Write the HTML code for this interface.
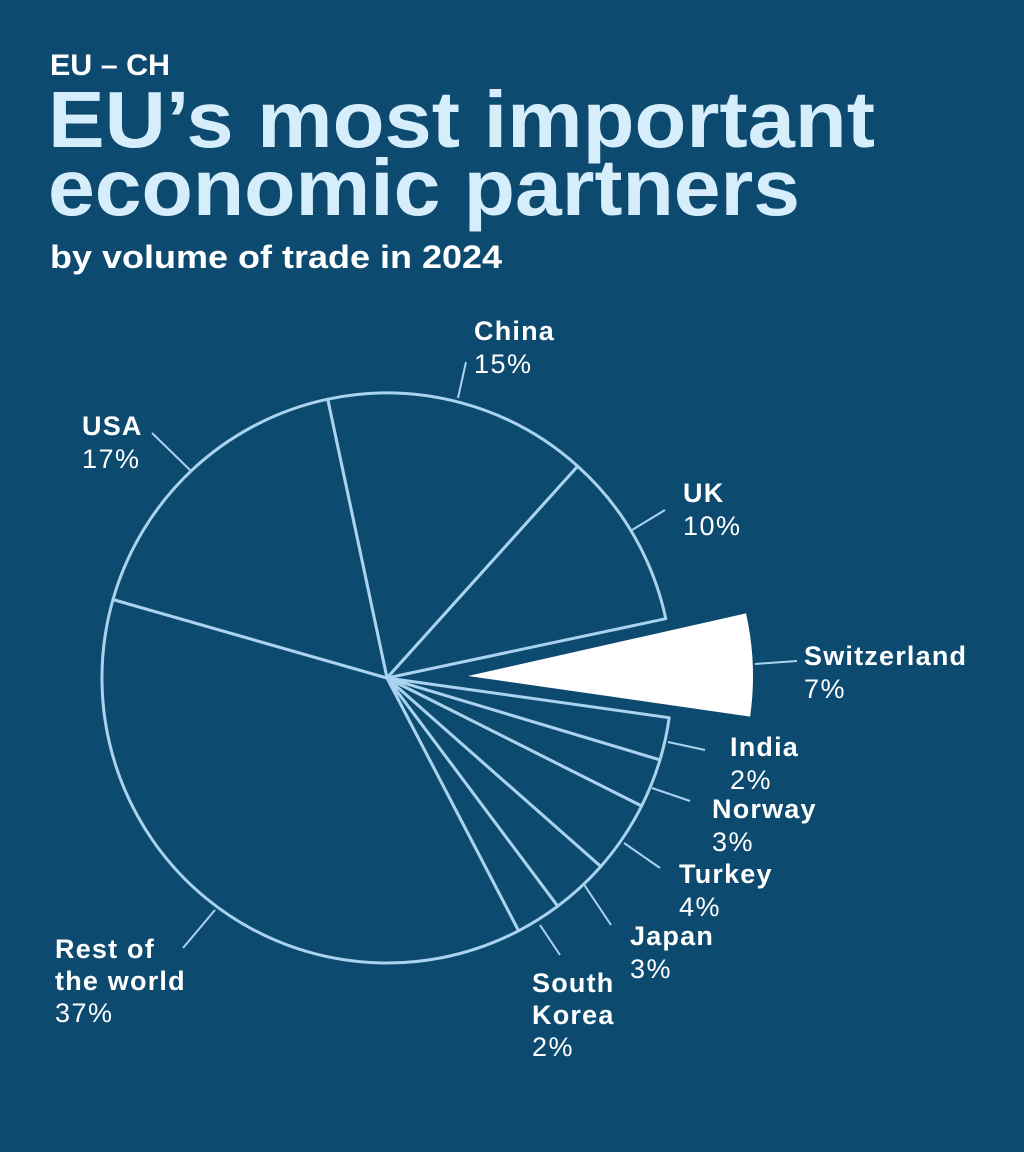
<!DOCTYPE html>
<html><head><meta charset="utf-8"><style>
html,body{margin:0;padding:0;background:#0d4a70;}
svg{display:block;}
text{font-family:"Liberation Sans",sans-serif;}
.n{font-weight:bold;font-size:27px;fill:#fff;letter-spacing:1.2px;}
.p{font-size:27px;fill:#fff;letter-spacing:1.5px;}
</style></head><body>
<svg width="1024" height="1152" viewBox="0 0 1024 1152" xmlns="http://www.w3.org/2000/svg">
<rect width="1024" height="1152" fill="#0d4a70"/>
<text x="50" y="75" font-weight="bold" font-size="30" fill="#fff" textLength="120" lengthAdjust="spacingAndGlyphs">EU – CH</text>
<text x="48" y="147" font-weight="bold" font-size="80" fill="#d6eefb" textLength="827" lengthAdjust="spacingAndGlyphs">EU’s most important</text>
<text x="48" y="215" font-weight="bold" font-size="80" fill="#d6eefb" textLength="752" lengthAdjust="spacingAndGlyphs">economic partners</text>
<text x="50" y="268" font-weight="bold" font-size="32" fill="#fff" textLength="452" lengthAdjust="spacingAndGlyphs">by volume of trade in 2024</text>

<g fill="#0d4a70" stroke="#a9d3ee" stroke-width="3" stroke-linejoin="round">
<path d="M387,678 L327.7,399.2 A285,285 0 0 1 577.7,466.2 Z"/>
<path d="M387,678 L577.7,466.2 A285,285 0 0 1 665.8,618.7 Z"/>
<path d="M387,678 L669.2,717.7 A285,285 0 0 1 660.0,759.9 Z"/>
<path d="M387,678 L660.0,759.9 A285,285 0 0 1 641.6,806.0 Z"/>
<path d="M387,678 L641.6,806.0 A285,285 0 0 1 600.8,866.5 Z"/>
<path d="M387,678 L600.8,866.5 A285,285 0 0 1 557.7,906.2 Z"/>
<path d="M387,678 L557.7,906.2 A285,285 0 0 1 518.6,930.8 Z"/>
<path d="M387,678 L518.6,930.8 A285,285 0 0 1 113.0,599.5 Z"/>
<path d="M387,678 L113.0,599.5 A285,285 0 0 1 327.7,399.2 Z"/>
</g>
<path d="M468,676 L746.0,613.4 A285,285 0 0 1 750.1,716.6 Z" fill="#fff"/>

<g stroke="#a9d3ee" stroke-width="2">
<line x1="458" y1="398" x2="466" y2="362"/>
<line x1="190" y1="470" x2="152" y2="433"/>
<line x1="632" y1="530" x2="665" y2="510"/>
<line x1="755" y1="664" x2="797" y2="661"/>
<line x1="668" y1="742" x2="705" y2="750"/>
<line x1="652" y1="788" x2="690" y2="801"/>
<line x1="624" y1="843" x2="660" y2="868"/>
<line x1="583" y1="883" x2="611" y2="925"/>
<line x1="540" y1="925" x2="560" y2="955"/>
<line x1="215" y1="910" x2="183" y2="948"/>
</g>

<text class="n" x="474" y="340">China</text><text class="p" x="474" y="373">15%</text>
<text class="n" x="82" y="435">USA</text><text class="p" x="82" y="468">17%</text>
<text class="n" x="683" y="502">UK</text><text class="p" x="683" y="535">10%</text>
<text class="n" x="804" y="665">Switzerland</text><text class="p" x="804" y="698">7%</text>
<text class="n" x="730" y="756">India</text><text class="p" x="730" y="789">2%</text>
<text class="n" x="712" y="818">Norway</text><text class="p" x="712" y="851">3%</text>
<text class="n" x="679" y="883">Turkey</text><text class="p" x="679" y="916">4%</text>
<text class="n" x="630" y="945">Japan</text><text class="p" x="630" y="978">3%</text>
<text class="n" x="532" y="992">South</text><text class="n" x="532" y="1024">Korea</text><text class="p" x="532" y="1056">2%</text>
<text class="n" x="55" y="958">Rest of</text><text class="n" x="55" y="990">the world</text><text class="p" x="55" y="1022">37%</text>
</svg>
</body></html>
